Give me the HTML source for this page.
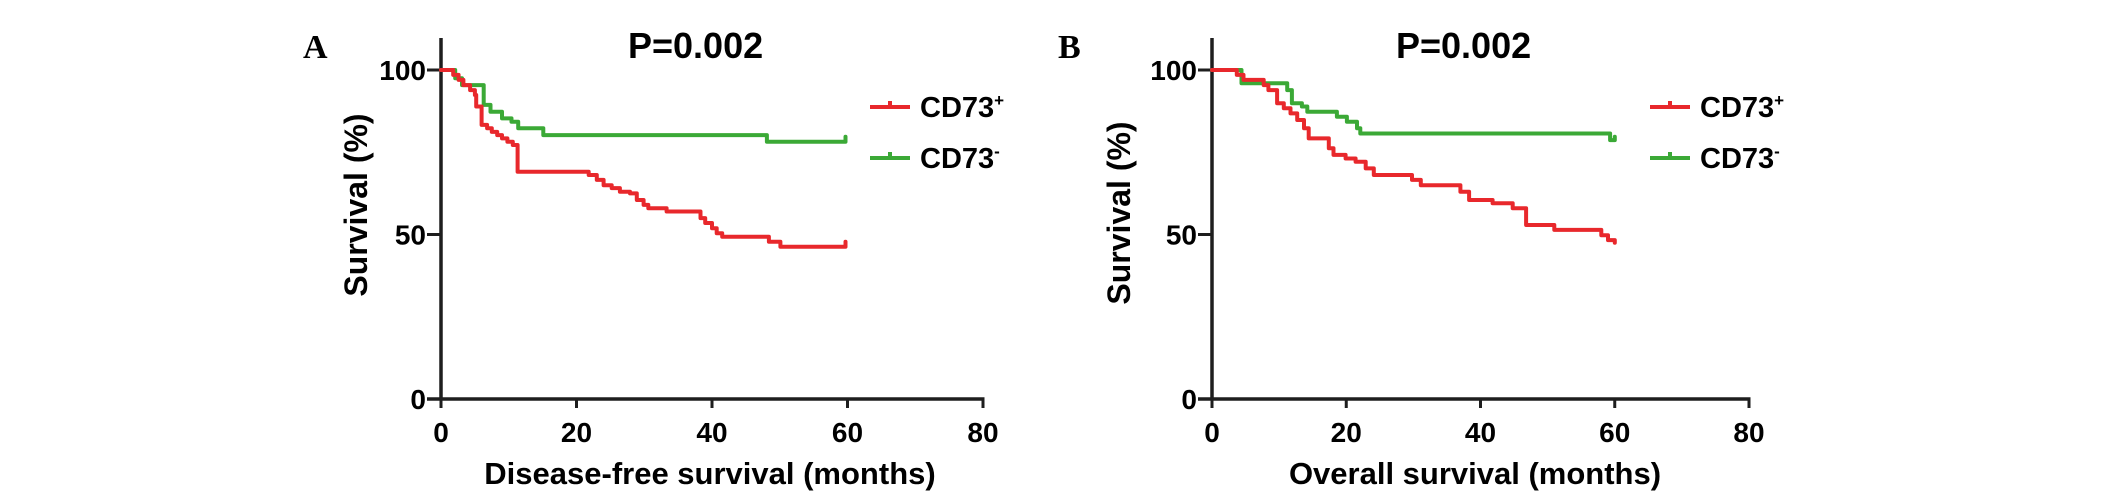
<!DOCTYPE html>
<html><head><meta charset="utf-8">
<style>
html,body{margin:0;padding:0;background:#fff;}
svg{display:block;font-family:"Liberation Sans",Arial,sans-serif;}
</style></head>
<body>
<svg id="chart" width="2126" height="498" viewBox="0 0 2126 498" xmlns="http://www.w3.org/2000/svg"></svg>
<script>
// Panel A: disease-free survival
const xTicks = [0, 20, 40, 60, 80];
const yTicks = [0, 50, 100];
const dfsPosTimes = [1.8, 2.6, 3.3, 4.3, 5.0, 5.2, 6.0, 6.8, 7.5, 8.3, 9.0, 9.8, 10.6, 11.3, 21.8, 23.0, 24.0, 25.2, 26.4, 27.9, 28.9, 29.9, 30.6, 33.3, 38.3, 39.0, 40.0, 40.7, 41.5, 48.4, 50.1];
const dfsPosSurv  = [98.5, 97.0, 95.4, 93.9, 92.4, 88.9, 83.3, 82.3, 81.2, 80.2, 79.2, 78.2, 77.2, 69.1, 68.1, 66.6, 65.0, 64.1, 63.0, 62.5, 60.5, 59.0, 58.0, 57.0, 55.0, 53.5, 51.9, 50.4, 49.3, 47.8, 46.3];
const dfsNegTimes = [2.1, 3.1, 6.3, 7.3, 9.0, 10.4, 11.4, 15.1, 48.1];
const dfsNegSurv  = [97.5, 95.4, 89.4, 87.3, 85.3, 84.3, 82.3, 80.2, 78.2];
const dfsEnd = 59.7, dfsPosCensor = 47.8, dfsNegCensor = 79.7;
// Panel B: overall survival
const osPosTimes = [3.7, 4.7, 7.7, 8.4, 9.7, 10.7, 11.7, 12.7, 13.7, 14.4, 17.4, 18.1, 19.9, 21.4, 22.9, 24.1, 29.8, 31.1, 37.0, 38.3, 41.8, 44.8, 46.8, 51.0, 58.0, 59.0, 60.0];
const osPosSurv  = [98.5, 97.0, 95.4, 93.9, 89.9, 88.4, 86.8, 84.8, 82.3, 79.2, 76.2, 74.2, 73.1, 72.1, 70.1, 68.1, 66.6, 65.0, 63.0, 60.5, 59.5, 58.0, 52.9, 51.4, 49.8, 48.3, 47.5];
const osNegTimes = [4.4, 11.2, 11.9, 13.4, 14.2, 18.6, 20.1, 21.6, 22.1, 59.3];
const osNegSurv  = [96.0, 93.9, 89.9, 88.9, 87.3, 85.8, 84.3, 82.3, 80.7, 78.7];
const osEnd = 60.0, osNegCensor = 79.7;

const svg = document.getElementById('chart');
const NS = 'http://www.w3.org/2000/svg';
function mk(tag, attrs, parent) {
  const e = document.createElementNS(NS, tag);
  for (const k in attrs) e.setAttribute(k, attrs[k]);
  (parent || svg).appendChild(e);
  return e;
}
const RED = '#e8282c', GREEN = '#3ba936', AX = '#1e1e1e';

function panel(cfg) {
  const g = mk('g', {});
  
  
  const xs = t => cfg.x0 + (cfg.x80 - cfg.x0) * t / 80;
  const ys = s => cfg.y0 - (cfg.y0 - cfg.y100) * s / 100;
  const ya = mk('line', {x1: cfg.x0, y1: 38, x2: cfg.x0, y2: cfg.y0 + 1, stroke: AX, 'stroke-width': 3.5}, g);
  
  
  const xa = mk('line', {x1: cfg.x0 - 14, y1: cfg.y0, x2: xs(80) + 1.5, y2: cfg.y0, stroke: AX, 'stroke-width': 3.5}, g);
  
  
  yTicks.forEach(v => {
    const y = ys(v);
    mk('line', {x1: cfg.x0 - 14, y1: y, x2: cfg.x0, y2: y, stroke: AX, 'stroke-width': 3}, g);
    const t = mk('text', {x: cfg.x0 - 15, y: y + 10, 'text-anchor': 'end', 'font-size': 28, 'font-weight': 'bold', fill: '#000'}, g);
    t.textContent = v;
    
    
  });
  xTicks.forEach(v => {
    const x = xs(v);
    mk('line', {x1: x, y1: cfg.y0, x2: x, y2: cfg.y0 + 9, stroke: AX, 'stroke-width': 3}, g);
    const t = mk('text', {x: x, y: 442, 'text-anchor': 'middle', 'font-size': 28, 'font-weight': 'bold', fill: '#000'}, g);
    t.textContent = v;
    
    
  });
  const yt = mk('text', {x: 0, y: 0, transform: `translate(${cfg.ytx},${cfg.yty}) rotate(-90)`, 'text-anchor': 'middle', 'font-size': 32, 'font-weight': 'bold', fill: '#000'}, g);
  yt.textContent = 'Survival (%)';
  
  
  const xt = mk('text', {x: cfg.xtx, y: 484, 'text-anchor': 'middle', 'font-size': 31, 'font-weight': 'bold', fill: '#000'}, g);
  xt.textContent = cfg.xtitle;
  
  
  const pt = mk('text', {x: cfg.px, y: 58, 'font-size': 36, 'font-weight': 'bold', fill: '#000'}, g);
  pt.textContent = 'P=0.002';
  
  
  const lt = mk('text', {x: cfg.lx, y: 58, 'font-size': 34, 'font-weight': 'bold', 'font-family': '"Liberation Serif",serif', fill: '#000'}, g);
  lt.textContent = cfg.letter;
  
  
  function curve(times, surv, end, censorS, color, name) {
    let d = `M${xs(0)},${ys(100)}`;
    for (let i = 0; i < times.length; i++) d += ` H${xs(times[i]).toFixed(1)} V${ys(surv[i]).toFixed(1)}`;
    d += ` H${xs(end).toFixed(1)}`;
    if (censorS !== null) d += ` V${ys(censorS).toFixed(1)}`;
    const p = mk('path', {d: d, fill: 'none', stroke: color, 'stroke-width': 4, 'stroke-linejoin': 'round', 'stroke-linecap': 'round'}, g);
    
    
  }
  curve(cfg.negT, cfg.negS, cfg.end, cfg.negC, GREEN, 'cd73-negative-curve');
  curve(cfg.posT, cfg.posS, cfg.end, cfg.posC, RED, 'cd73-positive-curve');
  [[RED, '+', 107, 'legend-cd73-positive'], [GREEN, '-', 158, 'legend-cd73-negative']].forEach(l => {
    const lg = mk('g', {}, g);
    
    
    mk('path', {d: `M${cfg.legX},${l[2]} H${cfg.legX + 40} M${cfg.legX + 20},${l[2]} V${l[2] - 6}`, stroke: l[0], 'stroke-width': 4, fill: 'none'}, lg);
    const t = mk('text', {x: cfg.legX + 50, y: l[2] + 10, 'font-size': 29, 'font-weight': 'bold', fill: '#000'}, lg);
    t.textContent = 'CD73';
    const s = mk('tspan', {dy: -11, 'font-size': 17}, t);
    s.textContent = l[1];
  });
}

panel({name: 'panel-a-disease-free', x0: 441, x80: 983, y0: 399, y100: 70, ytx: 367, yty: 205,
  xtx: 710, xtitle: 'Disease-free survival (months)', px: 628, lx: 303, letter: 'A', legX: 870,
  posT: dfsPosTimes, posS: dfsPosSurv, negT: dfsNegTimes, negS: dfsNegSurv, end: dfsEnd, posC: dfsPosCensor, negC: dfsNegCensor});
panel({name: 'panel-b-overall', x0: 1212, x80: 1749, y0: 399, y100: 70, ytx: 1130, yty: 213,
  xtx: 1475, xtitle: 'Overall survival (months)', px: 1396, lx: 1058, letter: 'B', legX: 1650,
  posT: osPosTimes, posS: osPosSurv, negT: osNegTimes, negS: osNegSurv, end: osEnd, posC: null, negC: osNegCensor});
</script>
</body></html>
